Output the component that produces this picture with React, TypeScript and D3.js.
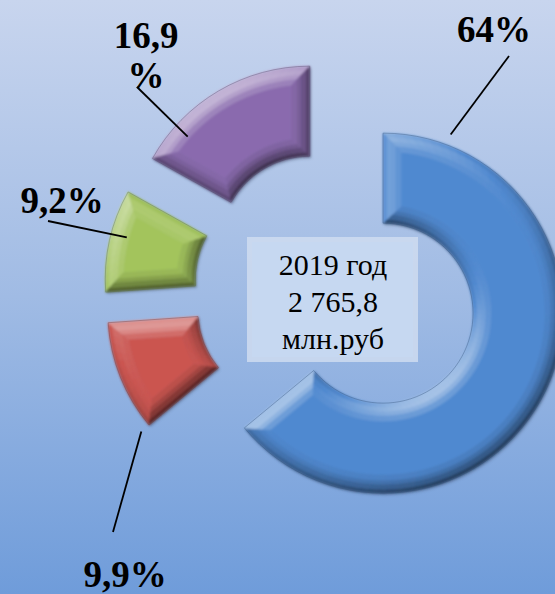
import React from "react";
import * as d3 from "d3";

// ---- data ----
const categories = ["Сегмент 1", "Сегмент 2", "Сегмент 3", "Сегмент 4"];
const shares = [64, 9.9, 9.2, 16.9];
const labelLines = [["64%"], ["9,9%"], ["9,2%"], ["16,9", "%"]];
const colors = ["#5089D0", "#CB5550", "#A3C45C", "#8A6BAE"];
const centerLines = ["2019 год", "2 765,8", "млн.руб"];

// ---- layout ----
const W = 555;
const H = 594;
const CX = 336;
const CY = 291;
const EXPLODE = 52;
const R_OUT = 180;
const R_IN = 90;
// label layout: text anchor (x, baseline y), leader outer end, leader slice anchor (fraction of slice angle, radius)
const labelLayout = [
  { x: 494, y: 42, lx: 509, ly: 56, frac: 0.09, rad: 191 },
  { x: 125, y: 587, lx: 113, ly: 532, frac: 0.0, rad: 190 },
  { x: 62, y: 213, lx: 48, ly: 221, frac: 0.57, rad: 164 },
  { x: 146, y: 48, lx: 137, ly: 87, frac: 0.21, rad: 164 },
];

const L = (() => {
  const v = [-0.45, -0.65, 0.6];
  const n = Math.hypot(v[0], v[1], v[2]);
  return v.map((x) => x / n);
})();

function shade(base: string, nx: number, ny: number, tiltDeg: number) {
  const t = (tiltDeg * Math.PI) / 180;
  const s = Math.sin(t);
  const c = Math.cos(t);
  const dot = s * (nx * L[0] + ny * L[1]) + c * L[2];
  let f = dot - L[2];
  if (f > 0) return d3.interpolateRgb(base, "#ffffff")(Math.min(0.9, f * 1.3));
  return d3.interpolateRgb(base, "#000000")(Math.min(0.8, -f * 0.5));
}

type P = [number, number];

function polar(cx: number, cy: number, r: number, a: number): P {
  return [cx + r * Math.sin(a), cy - r * Math.cos(a)];
}

function arcPts(cx: number, cy: number, r: number, a: number, b: number): P[] {
  const n = Math.max(2, Math.ceil(Math.abs(b - a) / (Math.PI / 180)) + 1);
  const pts: P[] = [];
  for (let i = 0; i < n; i++) {
    const t = a + ((b - a) * i) / (n - 1);
    pts.push(polar(cx, cy, r, t));
  }
  return pts;
}

function toPath(pts: P[]) {
  return "M" + pts.map((p) => p[0].toFixed(2) + "," + p[1].toFixed(2)).join("L") + "Z";
}

const LAYERS = [
  { t0: 0, t1: 4, tilt: 65 },
  { t0: 4, t1: 9, tilt: 42 },
  { t0: 9, t1: 13, tilt: 25 },
  { t0: 13, t1: 18, tilt: 10 },
];
const BEVEL = 18;

function slicePieces(cx: number, cy: number, a0: number, a1: number, base: string) {
  const pieces: { d: string; fill: string }[] = [];
  const os = (t: number) => a0 + Math.asin(t / (R_OUT - t));
  const oe = (t: number) => a1 - Math.asin(t / (R_OUT - t));
  const is = (t: number) => a0 + Math.asin(t / (R_IN + t));
  const ie = (t: number) => a1 - Math.asin(t / (R_IN + t));
  const facePts: P[] = [
    ...arcPts(cx, cy, R_OUT - BEVEL, os(BEVEL), oe(BEVEL)),
    ...arcPts(cx, cy, R_IN + BEVEL, ie(BEVEL), is(BEVEL)),
  ];
  pieces.push({ d: toPath(facePts), fill: base });
  const step = (3 * Math.PI) / 180;
  const N = Math.max(2, Math.ceil((a1 - a0) / step));
  for (const ly of LAYERS) {
    const { t0, t1, tilt } = ly;
    for (let i = 0; i < N; i++) {
      const f0 = i / N;
      const f1 = (i + 1) / N;
      const A0 = os(t0) + (oe(t0) - os(t0)) * f0;
      const A1 = os(t0) + (oe(t0) - os(t0)) * f1;
      const B0 = os(t1) + (oe(t1) - os(t1)) * f0;
      const B1 = os(t1) + (oe(t1) - os(t1)) * f1;
      const m = (A0 + A1) / 2;
      const pts = [...arcPts(cx, cy, R_OUT - t0, A0, A1), ...arcPts(cx, cy, R_OUT - t1, B1, B0)];
      pieces.push({ d: toPath(pts), fill: shade(base, Math.sin(m), -Math.cos(m), tilt) });
    }
    for (let i = 0; i < N; i++) {
      const f0 = i / N;
      const f1 = (i + 1) / N;
      const A0 = is(t0) + (ie(t0) - is(t0)) * f0;
      const A1 = is(t0) + (ie(t0) - is(t0)) * f1;
      const B0 = is(t1) + (ie(t1) - is(t1)) * f0;
      const B1 = is(t1) + (ie(t1) - is(t1)) * f1;
      const m = (A0 + A1) / 2;
      const pts = [...arcPts(cx, cy, R_IN + t0, A0, A1), ...arcPts(cx, cy, R_IN + t1, B1, B0)];
      pieces.push({ d: toPath(pts), fill: shade(base, -Math.sin(m), Math.cos(m), tilt) });
    }
    {
      const pts: P[] = [
        polar(cx, cy, R_OUT - t0, os(t0)),
        polar(cx, cy, R_IN + t0, is(t0)),
        polar(cx, cy, R_IN + t1, is(t1)),
        polar(cx, cy, R_OUT - t1, os(t1)),
      ];
      pieces.push({ d: toPath(pts), fill: shade(base, -Math.cos(a0), -Math.sin(a0), tilt) });
    }
    {
      const pts: P[] = [
        polar(cx, cy, R_OUT - t0, oe(t0)),
        polar(cx, cy, R_IN + t0, ie(t0)),
        polar(cx, cy, R_IN + t1, ie(t1)),
        polar(cx, cy, R_OUT - t1, oe(t1)),
      ];
      pieces.push({ d: toPath(pts), fill: shade(base, Math.cos(a1), Math.sin(a1), tilt) });
    }
  }
  return pieces;
}

const FONT = "Liberation Serif, Times New Roman, Tinos, DejaVu Serif, serif";

export default function App() {
  const pie = d3
    .pie<number>()
    .sort(null)
    .value((d) => d)
    .startAngle(0)
    .endAngle(2 * Math.PI);
  const arcs = pie(shares);
  const outline = d3.arc<d3.PieArcDatum<number>>().innerRadius(R_IN).outerRadius(R_OUT);

  const slices = arcs.map((a, i) => {
    const mid = (a.startAngle + a.endAngle) / 2;
    const cx = CX + EXPLODE * Math.sin(mid);
    const cy = CY - EXPLODE * Math.cos(mid);
    return { a, i, cx, cy, pieces: slicePieces(cx, cy, a.startAngle, a.endAngle, colors[i]) };
  });

  return (
    <svg
      width={W}
      height={H}
      viewBox={`0 0 ${W} ${H}`}
      style={{ position: "absolute", left: 0, top: 0, display: "block" }}
    >
      <defs>
        <linearGradient id="bg" x1="0" y1="0" x2="0" y2="1">
          <stop offset="0" stopColor="#C8D5EE" />
          <stop offset="0.5" stopColor="#A0BBE4" />
          <stop offset="1" stopColor="#6F9CDA" />
        </linearGradient>
        <filter id="soft" x="-10%" y="-10%" width="120%" height="120%">
          <feGaussianBlur stdDeviation="0.9" />
        </filter>
        <filter id="shadow" x="-10%" y="-10%" width="130%" height="130%">
          <feGaussianBlur stdDeviation="1.5" />
        </filter>
      </defs>
      <rect x={0} y={0} width={W} height={H} fill="url(#bg)" />

      {slices.map((s) => (
        <g key={categories[s.i]}>
          <path
            d={outline(s.a) || ""}
            transform={`translate(${s.cx + 1.5},${s.cy + 2})`}
            fill="#3a4a66"
            opacity={0.35}
            filter="url(#shadow)"
          />
          <g filter="url(#soft)">
            {s.pieces.map((p, k) => (
              <path key={k} d={p.d} fill={p.fill} stroke={p.fill} strokeWidth={0.6} />
            ))}
          </g>
          <path
            d={outline(s.a) || ""}
            transform={`translate(${s.cx},${s.cy})`}
            fill="none"
            stroke={d3.interpolateRgb(colors[s.i], "#000")(0.45)}
            strokeOpacity={0.45}
            strokeWidth={0.8}
          />
        </g>
      ))}

      {/* center box */}
      <rect x={247} y={237} width={171} height={125} fill="#CFDCF0" opacity={0.85} />
      <rect x={252} y={242} width={161} height={115} fill="#C6D8F1" />
      {centerLines.map((t, i) => (
        <text
          key={t}
          x={333}
          y={275 + i * 37}
          textAnchor="middle"
          style={{ fontFamily: FONT, fontSize: 30 }}
          fill="#000"
        >
          {t}
        </text>
      ))}

      {/* labels */}
      {slices.map((s) => {
        const lay = labelLayout[s.i];
        const ang = s.a.startAngle + (s.a.endAngle - s.a.startAngle) * lay.frac;
        const [px, py] = polar(s.cx, s.cy, lay.rad, ang);
        return (
          <g key={"lab" + s.i}>
            <line x1={px} y1={py} x2={lay.lx} y2={lay.ly} stroke="#000" strokeWidth={1.8} />
            {labelLines[s.i].map((t, k) => (
              <text
                key={k}
                x={lay.x}
                y={lay.y + k * 40}
                textAnchor="middle"
                style={{ fontFamily: FONT, fontWeight: "bold", fontSize: 37 }}
                fill="#000"
              >
                {t}
              </text>
            ))}
          </g>
        );
      })}
    </svg>
  );
}
